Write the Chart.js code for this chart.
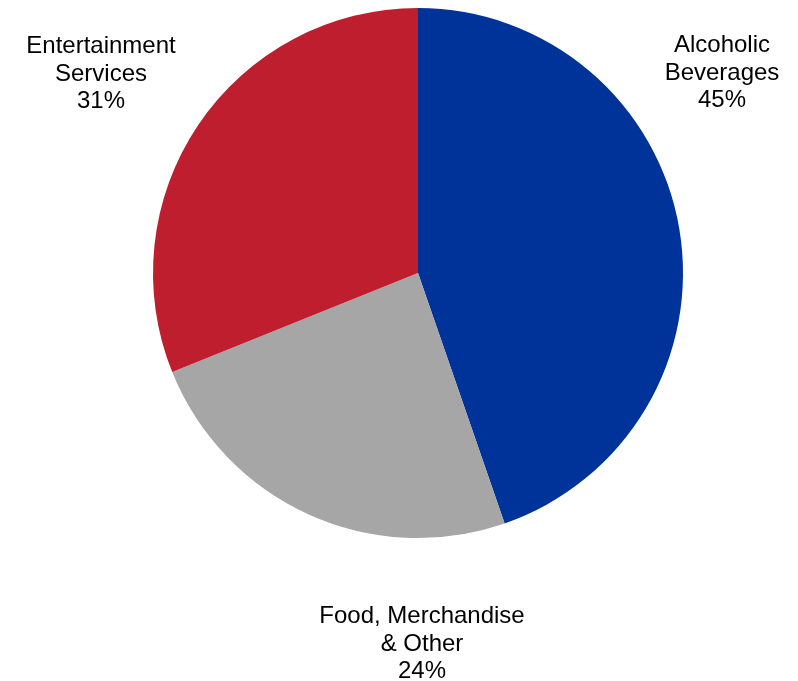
<!DOCTYPE html>
<html>
<head>
<meta charset="utf-8">
<script src="https://cdn.jsdelivr.net/npm/chart.js@4/dist/chart.umd.min.js"></script>
<style>
  html, body { margin: 0; padding: 0; background: #fff; }
  #wrap { width: 798px; height: 681px; position: relative; }
</style>
</head>
<body>
<div id="wrap"><canvas id="pie"></canvas></div>
<script>
// ── Data ── (shares; labels show rounded %)
const categories = ['Alcoholic Beverages', 'Food, Merchandise & Other', 'Entertainment Services'];
const shares = [44.7, 24.2, 31.1];
const labelLines = [
  ['Alcoholic', 'Beverages'],
  ['Food, Merchandise', '& Other'],
  ['Entertainment', 'Services']
];
const colors = ['#003399', '#A6A6A6', '#BE1E2D'];

// label anchors (center x, first baseline y) — Excel-style fixed placement
const labelAnchors = [[722, 52], [422, 623], [101, 53]];

const outsideLabels = {
  id: 'outsideLabels',
  afterDraw(chart) {
    const ctx = chart.ctx;
    ctx.save();
    ctx.font = '24px "Liberation Sans", Arial, sans-serif';
    ctx.fillStyle = '#000';
    ctx.textAlign = 'center';
    ctx.textBaseline = 'alphabetic';
    chart.data.datasets[0].data.forEach((v, i) => {
      const [x, y] = labelAnchors[i];
      const lines = [...labelLines[i], Math.round(v) + '%'];
      lines.forEach((t, j) => ctx.fillText(t, x, y + j * 27.5));
    });
    ctx.restore();
  }
};

new Chart(document.getElementById('pie'), {
  type: 'pie',
  data: {
    labels: categories,
    datasets: [{ data: shares, backgroundColor: colors, borderWidth: 0 }]
  },
  options: {
    responsive: true,
    maintainAspectRatio: false,
    animation: false,
    layout: { padding: { top: 8, bottom: 143, left: 153, right: 115 } },
    plugins: {
      legend: { display: false },
      tooltip: { enabled: false }
    }
  },
  plugins: [outsideLabels]
});
</script>
</body>
</html>
